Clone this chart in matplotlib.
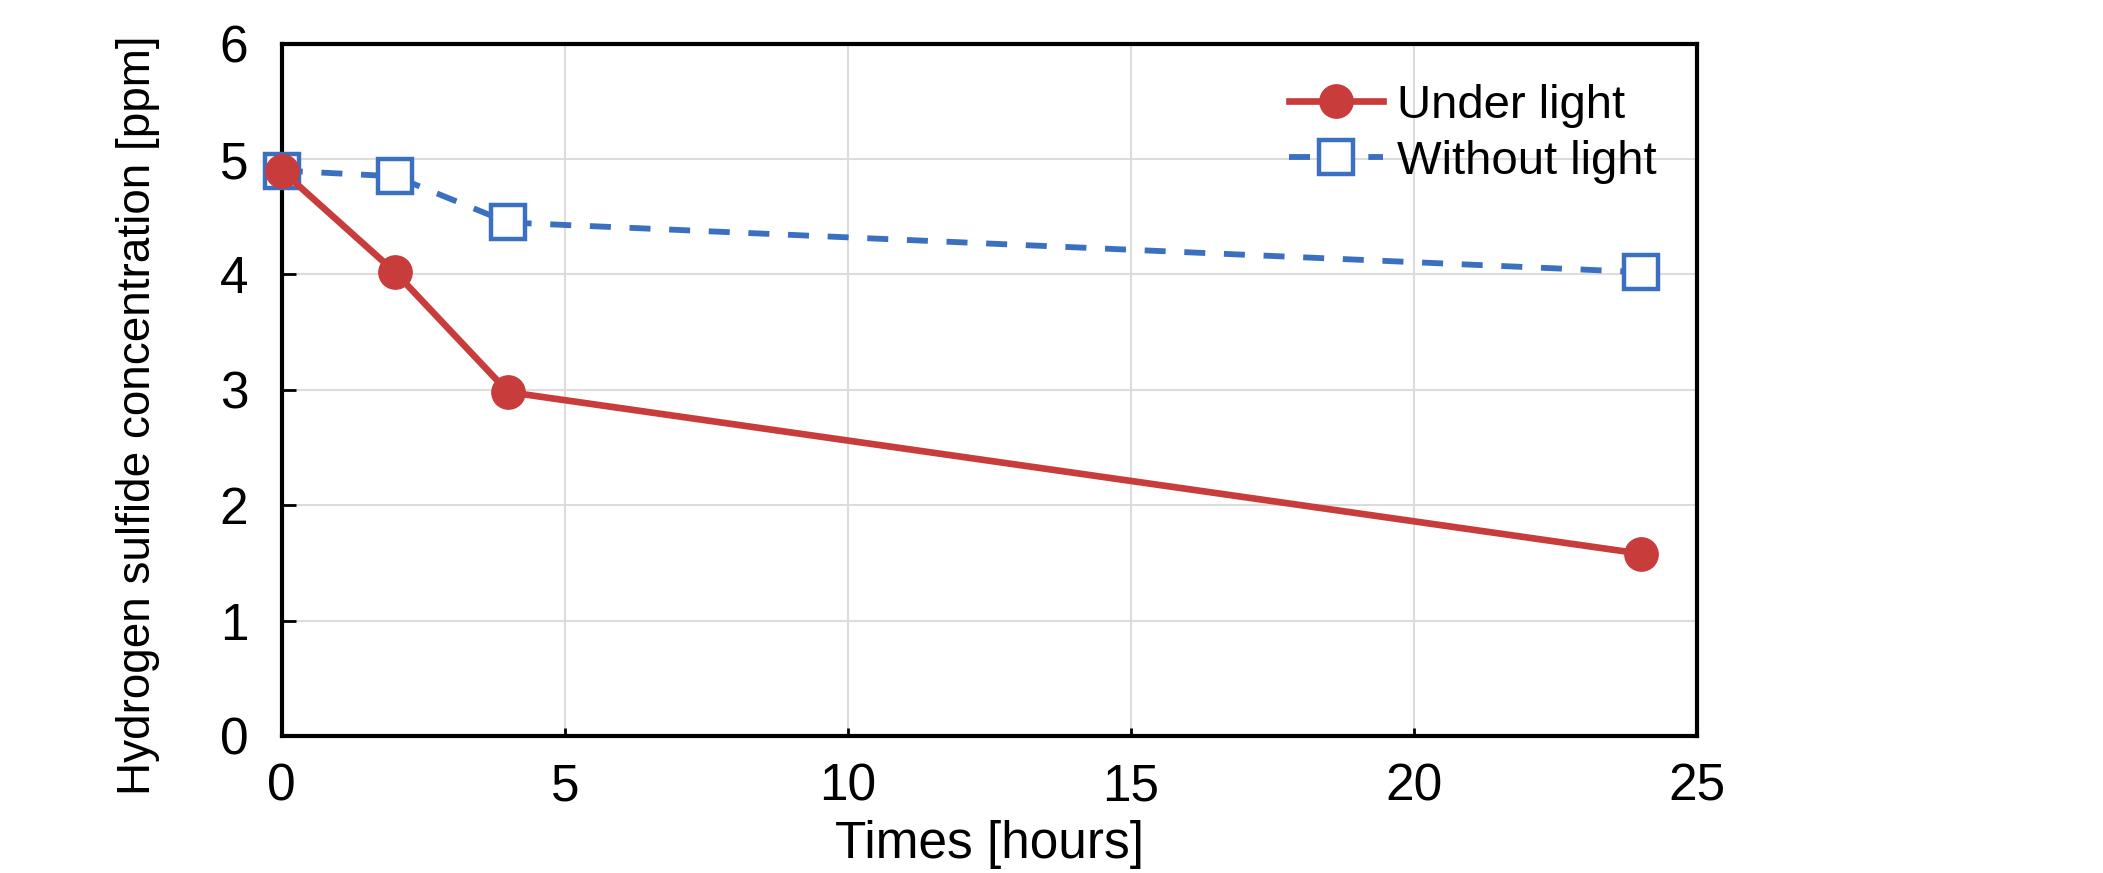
import matplotlib.pyplot as plt

hours = [0, 2, 4, 24]
under_light = [4.9, 4.02, 2.98, 1.58]
without_light = [4.9, 4.85, 4.45, 4.02]

plt.rcParams['font.family'] = ['Liberation Sans', 'DejaVu Sans']

fig = plt.figure(figsize=(21.03, 8.73), dpi=100)
ax = fig.add_axes([0.134, 0.157, 0.673, 0.793])

red = '#c83c3c'
blue = '#3b70c0'

ax.plot(hours, without_light, color=blue, linestyle=(0, (3.6, 3.2)), linewidth=4.2,
        marker='s', markersize=24, markerfacecolor='white', markeredgecolor=blue,
        markeredgewidth=3.2, label='Without light', zorder=3, clip_on=False)
ax.plot(hours, under_light, color=red, linestyle='-', linewidth=4.8,
        marker='o', markersize=24, markerfacecolor=red, markeredgecolor=red,
        label='Under light', zorder=4, clip_on=False)

ax.set_xlim(0, 25)
ax.set_ylim(0, 6)
ax.set_xticks([0, 5, 10, 15, 20, 25])
ax.set_yticks([0, 1, 2, 3, 4, 5, 6])
ax.grid(True, color='#dcdcdc', linewidth=1.5)
ax.set_axisbelow(True)
ax.tick_params(direction='in', length=10, width=2, labelsize=37)
ax.tick_params(axis='x', pad=19, length=6)
ax.tick_params(axis='y', pad=24)
for s in ax.spines.values():
    s.set_linewidth(3)

ax.set_xlabel('Times [hours]', fontsize=37, labelpad=6)
ax.set_ylabel('Hydrogen sulfide concentration [ppm]', fontsize=33)
ax.yaxis.set_label_coords(-0.086, 0.463)

h, l = ax.get_legend_handles_labels()
ax.legend(h[::-1], l[::-1], loc='upper right', frameon=False, fontsize=34,
          handlelength=2.0, handletextpad=0.3, borderaxespad=0.45, labelspacing=0.25)

fig.savefig('out.png', dpi=100)
